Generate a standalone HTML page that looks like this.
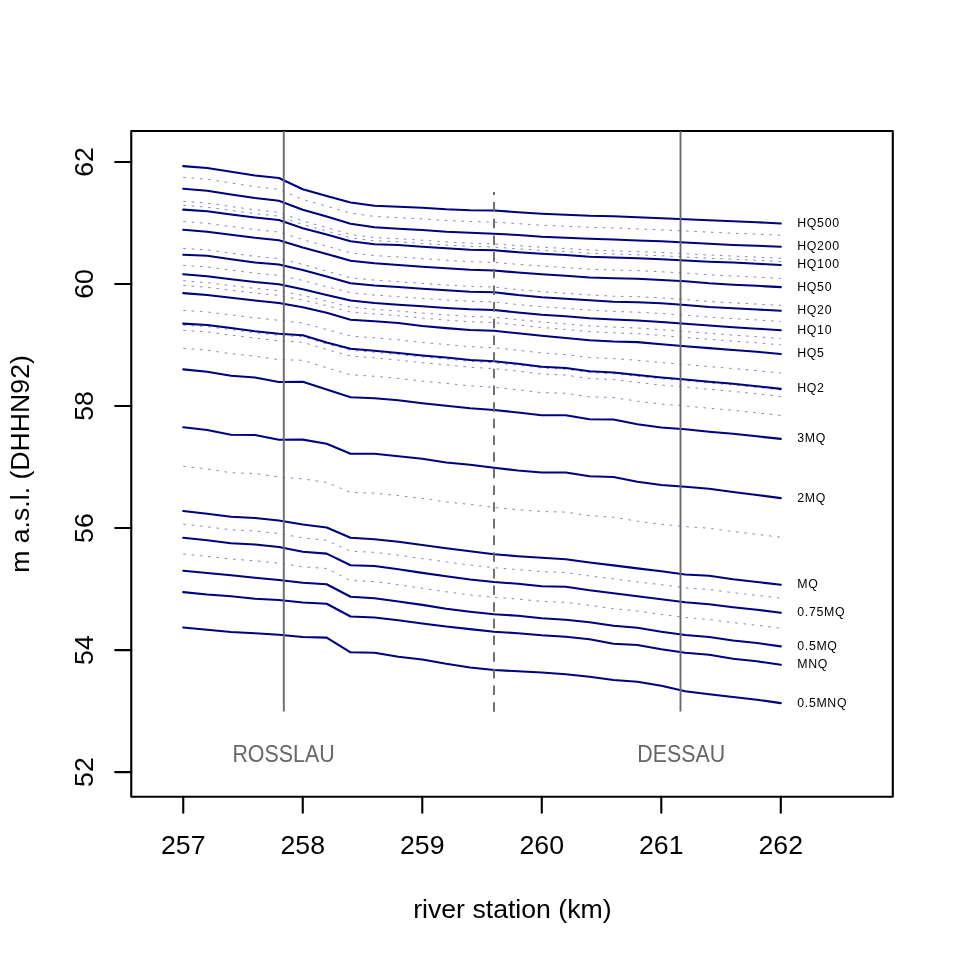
<!DOCTYPE html><html><head><meta charset="utf-8"><style>html,body{margin:0;padding:0;background:#fff;}svg{display:block;will-change:transform;}text{font-family:"Liberation Sans",sans-serif;}</style></head><body>
<svg width="960" height="960" viewBox="0 0 960 960">
<rect width="960" height="960" fill="#fff"/>
<rect x="131.25" y="131.0" width="761.55" height="665.7" fill="none" stroke="#000" stroke-width="2.1" stroke-linejoin="round"/>
<g fill="none" stroke="#3a3ab0" stroke-width="1.0" stroke-dasharray="2.6 5.73" stroke-opacity="0.62">
<path d="M183.25,177.30 L207.15,179.29 L231.05,183.00 L254.96,186.66 L278.86,189.32 L302.76,199.44 L326.66,206.25 L350.56,213.05 L374.47,216.46 L398.37,217.67 L422.27,218.88 L446.17,220.49 L470.07,221.46 L493.98,222.12 L517.88,223.63 L541.78,225.24 L565.68,226.30 L589.58,227.36 L613.49,227.92 L637.39,228.93 L661.29,229.89 L685.19,230.96 L709.09,232.17 L733.00,233.23 L756.90,234.14 L780.80,235.25"/>
<path d="M183.25,201.25 L207.15,203.12 L231.05,206.55 L254.96,209.77 L278.86,212.42 L302.76,220.96 L326.66,227.54 L350.56,234.42 L374.47,237.58 L398.37,238.67 L422.27,240.24 L446.17,241.90 L470.07,243.17 L493.98,243.95 L517.88,245.64 L541.78,247.24 L565.68,248.49 L589.58,249.95 L613.49,250.74 L637.39,251.64 L661.29,252.52 L685.19,253.81 L709.09,255.07 L733.00,256.04 L756.90,257.12 L780.80,258.30"/>
<path d="M183.25,205.40 L207.15,207.18 L231.05,210.49 L254.96,213.60 L278.86,216.16 L302.76,224.53 L326.66,231.02 L350.56,237.80 L374.47,240.83 L398.37,241.78 L422.27,243.40 L446.17,245.03 L470.07,246.36 L493.98,247.04 L517.88,248.83 L541.78,250.38 L565.68,251.65 L589.58,253.22 L613.49,254.01 L637.39,254.85 L661.29,255.74 L685.19,257.03 L709.09,258.25 L733.00,259.14 L756.90,260.27 L780.80,261.50"/>
<path d="M183.25,221.50 L207.15,223.39 L231.05,226.48 L254.96,229.55 L278.86,232.06 L302.76,239.68 L326.66,246.09 L350.56,252.92 L374.47,255.60 L398.37,256.94 L422.27,258.66 L446.17,260.27 L470.07,261.68 L493.98,262.41 L517.88,264.38 L541.78,266.01 L565.68,267.50 L589.58,269.22 L613.49,270.03 L637.39,270.60 L661.29,271.75 L685.19,273.06 L709.09,274.76 L733.00,275.94 L756.90,277.09 L780.80,278.40"/>
<path d="M183.25,248.50 L207.15,249.81 L231.05,253.13 L254.96,256.40 L278.86,258.55 L302.76,264.48 L326.66,271.05 L350.56,277.82 L374.47,280.11 L398.37,281.68 L422.27,283.40 L446.17,285.02 L470.07,286.44 L493.98,287.03 L517.88,289.66 L541.78,291.76 L565.68,293.30 L589.58,294.95 L613.49,296.23 L637.39,296.72 L661.29,297.89 L685.19,299.52 L709.09,301.54 L733.00,302.88 L756.90,304.08 L780.80,305.40"/>
<path d="M183.25,265.40 L207.15,266.97 L231.05,270.15 L254.96,273.17 L278.86,275.28 L302.76,280.50 L326.66,286.66 L350.56,292.71 L374.47,295.07 L398.37,296.68 L422.27,298.32 L446.17,299.97 L470.07,301.32 L493.98,301.92 L517.88,304.56 L541.78,306.76 L565.68,308.31 L589.58,310.12 L613.49,311.41 L637.39,312.18 L661.29,313.50 L685.19,315.25 L709.09,317.09 L733.00,318.60 L756.90,319.97 L780.80,321.40"/>
<path d="M183.25,280.70 L207.15,282.67 L231.05,285.60 L254.96,288.37 L278.86,290.68 L302.76,295.44 L326.66,301.10 L350.56,307.12 L374.47,309.31 L398.37,311.02 L422.27,313.10 L446.17,314.94 L470.07,316.45 L493.98,317.19 L517.88,319.69 L541.78,322.00 L565.68,323.81 L589.58,325.92 L613.49,327.12 L637.39,327.99 L661.29,329.70 L685.19,331.57 L709.09,333.34 L733.00,335.11 L756.90,336.72 L780.80,338.50"/>
<path d="M183.25,285.40 L207.15,287.36 L231.05,290.25 L254.96,293.01 L278.86,295.40 L302.76,300.00 L326.66,305.57 L350.56,311.99 L374.47,313.96 L398.37,315.68 L422.27,318.13 L446.17,320.09 L470.07,321.77 L493.98,322.54 L517.88,325.06 L541.78,327.46 L565.68,329.44 L589.58,331.64 L613.49,332.85 L637.39,333.63 L661.29,335.51 L685.19,337.45 L709.09,339.29 L733.00,341.13 L756.90,342.83 L780.80,344.80"/>
<path d="M183.25,310.40 L207.15,311.99 L231.05,314.88 L254.96,317.84 L278.86,320.32 L302.76,323.07 L326.66,329.46 L350.56,335.99 L374.47,337.84 L398.37,339.80 L422.27,342.50 L446.17,344.52 L470.07,346.73 L493.98,347.78 L517.88,350.26 L541.78,352.96 L565.68,354.63 L589.58,357.46 L613.49,358.64 L637.39,360.26 L661.29,362.56 L685.19,364.53 L709.09,366.57 L733.00,368.55 L756.90,370.65 L780.80,373.10"/>
<path d="M183.25,325.20 L207.15,326.61 L231.05,329.62 L254.96,332.75 L278.86,335.29 L302.76,336.80 L326.66,344.00 L350.56,350.22 L374.47,352.26 L398.37,354.43 L422.27,356.92 L446.17,358.91 L470.07,361.39 L493.98,362.67 L517.88,365.15 L541.78,368.02 L565.68,369.26 L589.58,372.55 L613.49,373.70 L637.39,376.24 L661.29,378.73 L685.19,380.70 L709.09,382.88 L733.00,384.95 L756.90,387.33 L780.80,390.00"/>
<path d="M183.25,330.40 L207.15,331.95 L231.05,335.12 L254.96,338.10 L278.86,340.91 L302.76,342.23 L326.66,349.52 L350.56,355.95 L374.47,357.91 L398.37,360.09 L422.27,362.67 L446.17,364.75 L470.07,367.26 L493.98,368.62 L517.88,371.13 L541.78,374.02 L565.68,375.13 L589.58,378.53 L613.49,379.60 L637.39,382.44 L661.29,385.07 L685.19,387.03 L709.09,389.28 L733.00,391.39 L756.90,393.81 L780.80,396.50"/>
<path d="M183.25,348.30 L207.15,350.19 L231.05,353.77 L254.96,356.14 L278.86,359.70 L302.76,360.26 L326.66,367.76 L350.56,374.75 L374.47,376.29 L398.37,378.37 L422.27,381.12 L446.17,383.37 L470.07,385.85 L493.98,387.34 L517.88,389.82 L541.78,392.65 L565.68,393.24 L589.58,396.84 L613.49,397.54 L637.39,401.19 L661.29,404.10 L685.19,405.92 L709.09,408.26 L733.00,410.34 L756.90,412.77 L780.80,415.40"/>
<path d="M183.25,466.25 L207.15,468.95 L231.05,472.77 L254.96,473.49 L278.86,477.13 L302.76,478.88 L326.66,482.42 L350.56,492.52 L374.47,493.12 L398.37,495.62 L422.27,498.39 L446.17,501.92 L470.07,504.44 L493.98,507.40 L517.88,509.73 L541.78,511.50 L565.68,512.10 L589.58,515.62 L613.49,517.28 L637.39,521.15 L661.29,524.18 L685.19,526.56 L709.09,528.25 L733.00,531.49 L756.90,534.36 L780.80,537.25"/>
<path d="M183.25,524.20 L207.15,526.86 L231.05,529.80 L254.96,531.03 L278.86,533.52 L302.76,537.85 L326.66,540.30 L350.56,551.27 L374.47,552.31 L398.37,555.19 L422.27,558.62 L446.17,561.91 L470.07,565.04 L493.98,567.73 L517.88,569.62 L541.78,571.59 L565.68,572.54 L589.58,575.97 L613.49,578.90 L637.39,581.84 L661.29,584.72 L685.19,587.86 L709.09,589.49 L733.00,592.68 L756.90,595.32 L780.80,598.20"/>
<path d="M183.25,554.00 L207.15,556.39 L231.05,559.00 L254.96,560.80 L278.86,563.11 L302.76,566.84 L326.66,568.46 L350.56,580.56 L374.47,581.61 L398.37,584.82 L422.27,588.28 L446.17,591.78 L470.07,594.90 L493.98,597.36 L517.88,599.02 L541.78,601.43 L565.68,602.32 L589.58,605.36 L613.49,608.60 L637.39,611.04 L661.29,614.42 L685.19,617.52 L709.09,619.48 L733.00,622.67 L756.90,625.13 L780.80,628.30"/>
</g>
<g fill="none" stroke="#000080" stroke-width="2.1" stroke-linejoin="round" stroke-linecap="round">
<path d="M183.25,166.10 L207.15,168.00 L231.05,171.70 L254.96,175.50 L278.86,178.00 L302.76,189.20 L326.66,196.00 L350.56,202.50 L374.47,205.80 L398.37,206.70 L422.27,207.80 L446.17,209.30 L470.07,210.20 L493.98,210.50 L517.88,212.20 L541.78,213.70 L565.68,214.70 L589.58,215.80 L613.49,216.20 L637.39,217.20 L661.29,218.30 L685.19,219.20 L709.09,220.30 L733.00,221.20 L756.90,222.20 L780.80,223.50"/>
<path d="M183.25,188.75 L207.15,190.80 L231.05,194.50 L254.96,198.00 L278.86,200.80 L302.76,209.80 L326.66,216.60 L350.56,223.70 L374.47,227.20 L398.37,228.70 L422.27,230.00 L446.17,231.70 L470.07,232.70 L493.98,233.70 L517.88,235.00 L541.78,236.70 L565.68,237.80 L589.58,238.80 L613.49,239.50 L637.39,240.50 L661.29,241.30 L685.19,242.50 L709.09,243.80 L733.00,245.00 L756.90,245.80 L780.80,246.70"/>
<path d="M183.25,209.60 L207.15,211.30 L231.05,214.50 L254.96,217.50 L278.86,220.00 L302.76,228.20 L326.66,234.60 L350.56,241.30 L374.47,244.20 L398.37,245.00 L422.27,246.70 L446.17,248.30 L470.07,249.70 L493.98,250.30 L517.88,252.20 L541.78,253.70 L565.68,255.00 L589.58,256.70 L613.49,257.50 L637.39,258.30 L661.29,259.20 L685.19,260.50 L709.09,261.70 L733.00,262.50 L756.90,263.70 L780.80,265.00"/>
<path d="M183.25,229.70 L207.15,231.70 L231.05,234.70 L254.96,237.80 L278.86,240.30 L302.76,247.50 L326.66,253.90 L350.56,260.80 L374.47,263.30 L398.37,265.00 L422.27,266.70 L446.17,268.30 L470.07,269.70 L493.98,270.50 L517.88,272.50 L541.78,274.20 L565.68,275.80 L589.58,277.50 L613.49,278.30 L637.39,278.70 L661.29,280.00 L685.19,281.30 L709.09,283.30 L733.00,284.70 L756.90,285.80 L780.80,287.10"/>
<path d="M183.25,254.75 L207.15,255.80 L231.05,259.20 L254.96,262.50 L278.86,264.50 L302.76,270.00 L326.66,276.60 L350.56,283.30 L374.47,285.50 L398.37,287.00 L422.27,288.70 L446.17,290.30 L470.07,291.70 L493.98,292.20 L517.88,295.00 L541.78,297.20 L565.68,298.70 L589.58,300.30 L613.49,301.70 L637.39,302.20 L661.29,303.30 L685.19,305.00 L709.09,307.00 L733.00,308.30 L756.90,309.50 L780.80,310.80"/>
<path d="M183.25,274.20 L207.15,276.20 L231.05,279.20 L254.96,282.00 L278.86,284.20 L302.76,289.20 L326.66,295.00 L350.56,300.50 L374.47,303.00 L398.37,304.70 L422.27,306.30 L446.17,308.00 L470.07,309.30 L493.98,310.00 L517.88,312.50 L541.78,314.70 L565.68,316.30 L589.58,318.30 L613.49,319.50 L637.39,320.50 L661.29,322.00 L685.19,323.80 L709.09,325.50 L733.00,327.20 L756.90,328.70 L780.80,330.25"/>
<path d="M183.25,293.10 L207.15,295.00 L231.05,297.80 L254.96,300.50 L278.86,303.00 L302.76,307.30 L326.66,312.70 L350.56,319.70 L374.47,321.30 L398.37,323.00 L422.27,326.00 L446.17,328.10 L470.07,330.00 L493.98,330.80 L517.88,333.30 L541.78,335.80 L565.68,338.00 L589.58,340.30 L613.49,341.50 L637.39,342.10 L661.29,344.20 L685.19,346.20 L709.09,348.10 L733.00,350.00 L756.90,351.80 L780.80,354.00"/>
<path d="M183.25,323.60 L207.15,325.00 L231.05,328.00 L254.96,331.20 L278.86,333.70 L302.76,335.30 L326.66,342.50 L350.56,348.70 L374.47,350.80 L398.37,353.00 L422.27,355.50 L446.17,357.50 L470.07,360.00 L493.98,361.30 L517.88,363.80 L541.78,366.70 L565.68,368.00 L589.58,371.30 L613.49,372.50 L637.39,375.00 L661.29,377.50 L685.19,379.50 L709.09,381.70 L733.00,383.80 L756.90,386.20 L780.80,388.90"/>
<path d="M183.25,369.35 L207.15,371.70 L231.05,375.80 L254.96,377.50 L278.86,382.00 L302.76,381.70 L326.66,389.50 L350.56,397.20 L374.47,398.30 L398.37,400.30 L422.27,403.30 L446.17,405.80 L470.07,408.30 L493.98,410.00 L517.88,412.50 L541.78,415.30 L565.68,415.30 L589.58,419.20 L613.49,419.50 L637.39,424.20 L661.29,427.50 L685.19,429.20 L709.09,431.70 L733.00,433.80 L756.90,436.30 L780.80,438.90"/>
<path d="M183.25,427.30 L207.15,430.00 L231.05,434.70 L254.96,435.00 L278.86,439.70 L302.76,439.60 L326.66,443.70 L350.56,453.70 L374.47,453.70 L398.37,456.30 L422.27,458.70 L446.17,462.50 L470.07,464.70 L493.98,467.80 L517.88,470.50 L541.78,472.50 L565.68,472.50 L589.58,476.30 L613.49,477.00 L637.39,481.70 L661.29,485.00 L685.19,486.70 L709.09,488.80 L733.00,492.00 L756.90,495.00 L780.80,498.10"/>
<path d="M183.25,511.00 L207.15,513.80 L231.05,516.70 L254.96,518.00 L278.86,520.50 L302.76,524.50 L326.66,527.50 L350.56,537.80 L374.47,539.20 L398.37,541.70 L422.27,545.00 L446.17,548.30 L470.07,551.30 L493.98,554.20 L517.88,556.20 L541.78,557.80 L565.68,559.20 L589.58,562.50 L613.49,565.40 L637.39,568.40 L661.29,571.20 L685.19,574.50 L709.09,575.80 L733.00,579.20 L756.90,582.00 L780.80,584.75"/>
<path d="M183.25,537.75 L207.15,540.30 L231.05,543.30 L254.96,544.50 L278.86,547.00 L302.76,551.70 L326.66,553.60 L350.56,565.30 L374.47,566.00 L398.37,569.30 L422.27,572.90 L446.17,576.20 L470.07,579.50 L493.98,582.00 L517.88,583.80 L541.78,586.20 L565.68,586.70 L589.58,590.30 L613.49,593.30 L637.39,596.20 L661.29,599.20 L685.19,602.20 L709.09,604.20 L733.00,607.20 L756.90,609.70 L780.80,612.75"/>
<path d="M183.25,570.70 L207.15,573.00 L231.05,575.30 L254.96,577.80 L278.86,580.00 L302.76,582.80 L326.66,584.20 L350.56,596.80 L374.47,598.30 L398.37,601.50 L422.27,604.90 L446.17,608.70 L470.07,611.70 L493.98,614.20 L517.88,615.80 L541.78,618.30 L565.68,619.70 L589.58,622.20 L613.49,625.80 L637.39,627.80 L661.29,631.70 L685.19,635.00 L709.09,637.00 L733.00,640.50 L756.90,643.00 L780.80,646.40"/>
<path d="M183.25,592.10 L207.15,594.50 L231.05,596.30 L254.96,598.80 L278.86,600.00 L302.76,602.50 L326.66,603.80 L350.56,616.50 L374.47,617.50 L398.37,620.30 L422.27,623.50 L446.17,626.50 L470.07,629.10 L493.98,631.70 L517.88,633.30 L541.78,635.30 L565.68,636.70 L589.58,639.20 L613.49,643.70 L637.39,645.00 L661.29,649.20 L685.19,652.80 L709.09,654.70 L733.00,658.80 L756.90,661.30 L780.80,664.75"/>
<path d="M183.25,627.50 L207.15,629.70 L231.05,632.00 L254.96,633.30 L278.86,634.70 L302.76,637.00 L326.66,637.60 L350.56,652.30 L374.47,652.70 L398.37,656.70 L422.27,659.50 L446.17,663.80 L470.07,667.50 L493.98,670.00 L517.88,671.30 L541.78,672.50 L565.68,674.20 L589.58,676.70 L613.49,680.00 L637.39,681.70 L661.29,685.80 L685.19,691.30 L709.09,694.20 L733.00,697.00 L756.90,699.70 L780.80,703.10"/>
</g>
<g stroke="#6b6b6b" stroke-width="1.9" fill="none">
<line x1="283.8" y1="131.1" x2="283.8" y2="711.6"/>
<line x1="680.5" y1="131.1" x2="680.5" y2="711.6"/>
<line x1="494" y1="711.75" x2="494" y2="192" stroke-dasharray="9.55 7.12"/>
</g>
<text transform="translate(283.5,761.8) scale(0.91,1)" font-size="23.5" fill="#666" text-anchor="middle">ROSSLAU</text>
<text transform="translate(681.2,761.8) scale(0.91,1)" font-size="23.5" fill="#666" text-anchor="middle">DESSAU</text>
<text transform="translate(797.3,226.9) scale(0.9,1)" font-size="13.7" letter-spacing="0.75" fill="#000">HQ500</text>
<text transform="translate(797.3,250.1) scale(0.9,1)" font-size="13.7" letter-spacing="0.75" fill="#000">HQ200</text>
<text transform="translate(797.3,268.4) scale(0.9,1)" font-size="13.7" letter-spacing="0.75" fill="#000">HQ100</text>
<text transform="translate(797.3,290.5) scale(0.9,1)" font-size="13.7" letter-spacing="0.75" fill="#000">HQ50</text>
<text transform="translate(797.3,314.2) scale(0.9,1)" font-size="13.7" letter-spacing="0.75" fill="#000">HQ20</text>
<text transform="translate(797.3,333.6) scale(0.9,1)" font-size="13.7" letter-spacing="0.75" fill="#000">HQ10</text>
<text transform="translate(797.3,357.4) scale(0.9,1)" font-size="13.7" letter-spacing="0.75" fill="#000">HQ5</text>
<text transform="translate(797.3,392.3) scale(0.9,1)" font-size="13.7" letter-spacing="0.75" fill="#000">HQ2</text>
<text transform="translate(797.3,442.3) scale(0.9,1)" font-size="13.7" letter-spacing="0.75" fill="#000">3MQ</text>
<text transform="translate(797.3,501.5) scale(0.9,1)" font-size="13.7" letter-spacing="0.75" fill="#000">2MQ</text>
<text transform="translate(797.3,588.1) scale(0.9,1)" font-size="13.7" letter-spacing="0.75" fill="#000">MQ</text>
<text transform="translate(797.3,616.1) scale(0.9,1)" font-size="13.7" letter-spacing="0.75" fill="#000">0.75MQ</text>
<text transform="translate(797.3,649.8) scale(0.9,1)" font-size="13.7" letter-spacing="0.75" fill="#000">0.5MQ</text>
<text transform="translate(797.3,668.1) scale(0.9,1)" font-size="13.7" letter-spacing="0.75" fill="#000">MNQ</text>
<text transform="translate(797.3,706.5) scale(0.9,1)" font-size="13.7" letter-spacing="0.75" fill="#000">0.5MNQ</text>
<g stroke="#000" stroke-width="2.1" stroke-linecap="round">
<line x1="183.25" y1="796.7" x2="183.25" y2="812.8"/>
<line x1="302.76" y1="796.7" x2="302.76" y2="812.8"/>
<line x1="422.27" y1="796.7" x2="422.27" y2="812.8"/>
<line x1="541.78" y1="796.7" x2="541.78" y2="812.8"/>
<line x1="661.29" y1="796.7" x2="661.29" y2="812.8"/>
<line x1="780.80" y1="796.7" x2="780.80" y2="812.8"/>
<line x1="115.2" y1="772.10" x2="131.25" y2="772.10"/>
<line x1="115.2" y1="650.08" x2="131.25" y2="650.08"/>
<line x1="115.2" y1="528.06" x2="131.25" y2="528.06"/>
<line x1="115.2" y1="406.04" x2="131.25" y2="406.04"/>
<line x1="115.2" y1="284.02" x2="131.25" y2="284.02"/>
<line x1="115.2" y1="162.00" x2="131.25" y2="162.00"/>
</g>
<text x="183.25" y="854.2" font-size="26.67" text-anchor="middle">257</text>
<text x="302.76" y="854.2" font-size="26.67" text-anchor="middle">258</text>
<text x="422.27" y="854.2" font-size="26.67" text-anchor="middle">259</text>
<text x="541.78" y="854.2" font-size="26.67" text-anchor="middle">260</text>
<text x="661.29" y="854.2" font-size="26.67" text-anchor="middle">261</text>
<text x="780.80" y="854.2" font-size="26.67" text-anchor="middle">262</text>
<text transform="translate(93.3,772.10) rotate(-90)" font-size="26.67" text-anchor="middle">52</text>
<text transform="translate(93.3,650.08) rotate(-90)" font-size="26.67" text-anchor="middle">54</text>
<text transform="translate(93.3,528.06) rotate(-90)" font-size="26.67" text-anchor="middle">56</text>
<text transform="translate(93.3,406.04) rotate(-90)" font-size="26.67" text-anchor="middle">58</text>
<text transform="translate(93.3,284.02) rotate(-90)" font-size="26.67" text-anchor="middle">60</text>
<text transform="translate(93.3,162.00) rotate(-90)" font-size="26.67" text-anchor="middle">62</text>
<text x="512.4" y="918" font-size="26.67" text-anchor="middle">river station (km)</text>
<text transform="translate(29.3,464) rotate(-90)" font-size="26.67" text-anchor="middle">m a.s.l. (DHHN92)</text>
</svg></body></html>
